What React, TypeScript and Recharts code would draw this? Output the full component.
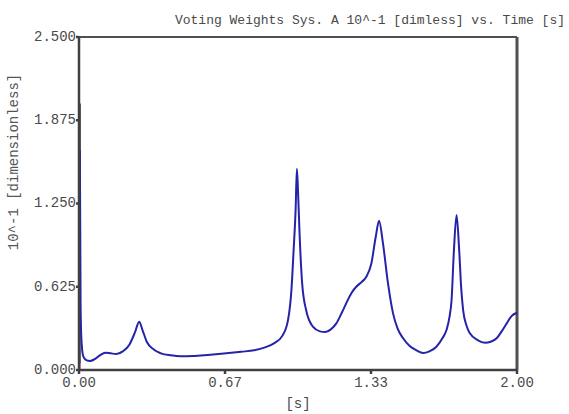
import React from "react";
import { LineChart, Line, XAxis, YAxis, ReferenceLine } from "recharts";

const timeS = [0.0, 0.004, 0.007, 0.012, 0.02, 0.035, 0.05, 0.07, 0.095, 0.12, 0.145, 0.17, 0.2, 0.23, 0.255, 0.275, 0.29, 0.31, 0.34, 0.374, 0.42, 0.465, 0.52, 0.587, 0.65, 0.74, 0.8, 0.85, 0.89, 0.93, 0.955, 0.97, 0.98, 0.989, 0.995, 1.001, 1.007, 1.019, 1.037, 1.068, 1.1, 1.125, 1.15, 1.175, 1.2, 1.22, 1.245, 1.266, 1.29, 1.312, 1.335, 1.355, 1.37, 1.388, 1.411, 1.434, 1.455, 1.48, 1.51, 1.541, 1.571, 1.6, 1.632, 1.66, 1.678, 1.692, 1.701, 1.712, 1.724, 1.736, 1.745, 1.754, 1.77, 1.785, 1.82, 1.854, 1.88, 1.907, 1.93, 1.953, 1.975, 2.0];
const weightA = [0.0, 1.64, 0.5, 0.2, 0.1, 0.072, 0.068, 0.08, 0.11, 0.13, 0.125, 0.12, 0.14, 0.19, 0.28, 0.363, 0.3, 0.21, 0.155, 0.125, 0.11, 0.103, 0.105, 0.113, 0.122, 0.137, 0.148, 0.17, 0.2, 0.26, 0.38, 0.6, 0.9, 1.2, 1.51, 1.3, 1.03, 0.65, 0.45, 0.325, 0.29, 0.285, 0.305, 0.35, 0.43, 0.5, 0.58, 0.625, 0.66, 0.7, 0.8, 1.0, 1.12, 0.95, 0.65, 0.425, 0.31, 0.238, 0.18, 0.148, 0.128, 0.14, 0.175, 0.24, 0.3, 0.4, 0.52, 0.9, 1.163, 0.9, 0.62, 0.45, 0.33, 0.275, 0.225, 0.205, 0.212, 0.238, 0.29, 0.35, 0.405, 0.43];

const spikeTime = [0.005, 0.006, 0.007];
const spikeValue = [0.05, 2.0, 0.3];

const magentaTime = [0.002, 0.002];
const magentaValue = [0.0, 0.15];

const xTicks = [0, 0.6667, 1.3333, 2];
const yTicks = [0, 0.625, 1.25, 1.875, 2.5];

const mainData = timeS.map((t, i) => ({ t, v: weightA[i] }));
const spikeData = spikeTime.map((t, i) => ({ t, v: spikeValue[i] }));
const magentaData = magentaTime.map((t, i) => ({ t, v: magentaValue[i] }));

const FONT = "'Liberation Mono', 'Courier New', monospace";
const TXT = "#4a4a4a";
const AX = "#404040";

export default function App() {
  return (
    <div style={{ position: "absolute", left: 0, top: 0, width: 569, height: 414, background: "#fff" }}>
      <div
        style={{
          position: "absolute",
          right: 4,
          top: 13,
          fontFamily: FONT,
          fontSize: 13,
          lineHeight: "15px",
          color: TXT,
          whiteSpace: "nowrap",
        }}
      >
        Voting Weights Sys. A 10^-1 [dimless] vs. Time [s]
      </div>
      <LineChart
        width={569}
        height={414}
        margin={{ top: 37, right: 52, bottom: 0, left: 0 }}
        style={{ position: "absolute", left: 0, top: 0 }}
      >
        <XAxis
          dataKey="t"
          type="number"
          domain={[0, 2]}
          ticks={xTicks}
          allowDuplicatedCategory={false}
          tickFormatter={(v: number) => v.toFixed(2)}
          height={44}
          tickSize={4}
          tickMargin={3}
          stroke={AX}
          strokeWidth={2.5}
          tick={{ fill: TXT, fontSize: 14, fontFamily: FONT }}
          label={{ value: "[s]", position: "insideBottom", offset: 6, fill: TXT, fontSize: 14, fontFamily: FONT }}
        />
        <YAxis
          type="number"
          domain={[0, 2.5]}
          ticks={yTicks}
          tickFormatter={(v: number) => v.toFixed(3)}
          width={79}
          tickSize={3}
          tickMargin={0}
          stroke={AX}
          strokeWidth={2.5}
          tick={{ fill: TXT, fontSize: 14, fontFamily: FONT, dy: -1 }}
          label={{
            content: () => (
              <text
                x={14}
                y={162}
                transform="rotate(-90 14 162)"
                textAnchor="middle"
                dominantBaseline="central"
                fill="#555"
                fontSize={14}
                fontFamily={FONT}
              >
                10^-1 [dimensionless]
              </text>
            ),
          }}
        />
        <ReferenceLine y={2.5} stroke="#505050" strokeWidth={2} ifOverflow="visible" />
        <ReferenceLine x={2} stroke="#505050" strokeWidth={3} ifOverflow="visible" />
        <Line
          data={magentaData}
          dataKey="v"
          type="linear"
          stroke="#b000b0"
          strokeWidth={2}
          dot={false}
          isAnimationActive={false}
        />
        <Line
          data={spikeData}
          dataKey="v"
          type="linear"
          stroke="#555544"
          strokeWidth={1.2}
          dot={false}
          isAnimationActive={false}
        />
        <Line
          data={mainData}
          dataKey="v"
          type="monotone"
          stroke="#2424a8"
          strokeWidth={2}
          dot={false}
          isAnimationActive={false}
        />
      </LineChart>
    </div>
  );
}
